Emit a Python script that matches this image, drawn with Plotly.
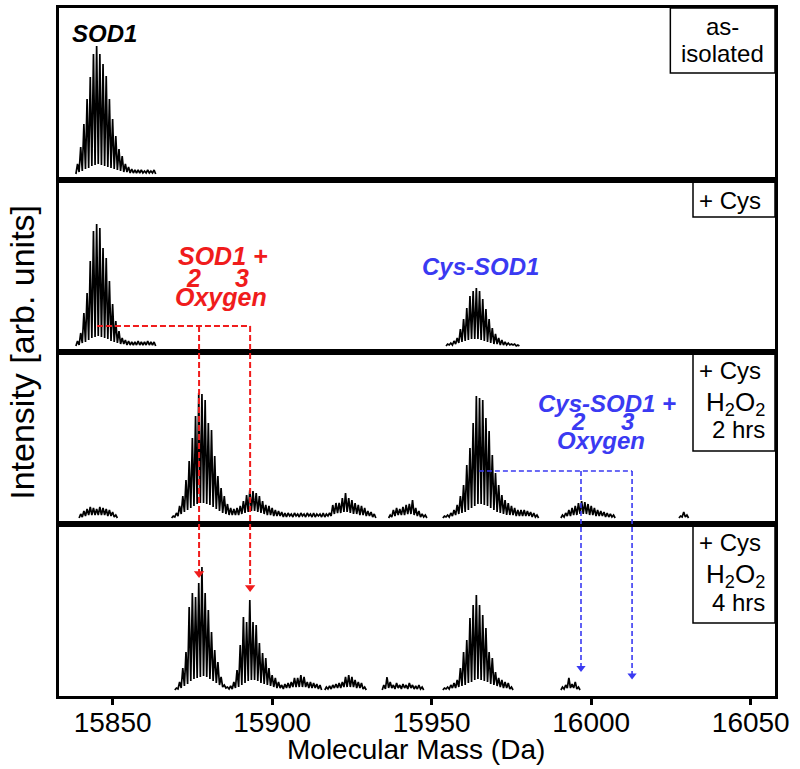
import plotly.graph_objects as go
from plotly.subplots import make_subplots

# ---------------- data ----------------
X_RANGE = [15833.2, 16057.6]
Y_RANGE = [-6, 166]
TICK_VALUES = [15850, 15900, 15950, 16000, 16050]
TICK_LABELS = ["15850", "15900", "15950", "16000", "16050"]

# each cluster: first peak mass (Da), peak heights at 1 Da steps, valley heights between peaks
P1_SOD1_START = 15839
P1_SOD1_PEAKS = [10, 27, 50, 75, 97, 120, 128, 120, 110, 98, 75, 55, 38, 25, 18, 10, 7, 5, 4, 4, 4, 3, 4, 3, 4]
P1_SOD1_VALLEYS = [2, 3, 5, 6, 8, 9, 10, 9, 8, 7, 6, 5, 4, 3, 2, 2, 1, 1, 1, 1, 1, 1, 1, 1]

P2_SOD1_START = 15839
P2_SOD1_PEAKS = [5, 13, 33, 53, 85, 115, 122, 118, 98, 88, 65, 42, 25, 15, 8, 6, 5, 4, 4, 5, 4, 4, 5, 4, 4]
P2_SOD1_VALLEYS = [1, 3, 4, 6, 8, 9, 10, 9, 8, 7, 5, 4, 3, 2, 2, 1, 1, 1, 1, 1, 1, 1, 1, 1]
P2_CYS_START = 15955
P2_CYS_PEAKS = [2, 3, 5, 8, 17, 27, 38, 50, 55, 58, 55, 47, 37, 27, 18, 12, 8, 6, 4, 3, 2, 2, 1]
P2_CYS_VALLEYS = [1, 1, 2, 3, 4, 5, 6, 7, 7, 7, 6, 5, 4, 3, 2, 2, 1, 1, 1, 1, 1, 0]

P3_A_START = 15840
P3_A_PEAKS = [4, 7, 9, 11, 10, 9, 11, 10, 9, 8, 6, 3]
P3_A_VALLEYS = [1, 2, 3, 3, 3, 3, 3, 3, 2, 2, 1]
P3_B_START = 15869
P3_B_PEAKS = [2, 5, 12, 22, 38, 57, 80, 102, 125, 124,
              118, 95, 88, 62, 42, 30, 22, 14, 10, 9,
              10, 12, 17, 23, 28, 27, 25, 22, 17, 13,
              12, 10, 8, 7, 6, 5,
              5, 4, 5, 4, 5, 4, 5, 4, 5, 4, 4, 5, 4, 5,
              13, 15, 15, 20, 25, 20, 18, 15, 13, 12, 10, 7, 6, 4]
P3_B_VALLEYS = [1, 2, 4, 6, 8, 10, 12, 14, 15, 15,
                14, 13, 11, 9, 7, 5, 4, 3, 3, 3,
                3, 4, 5, 6, 7, 7, 6, 5, 4, 3,
                3, 2, 2, 2, 1,
                1, 2, 1, 2, 1, 2, 1, 2, 1, 1, 2, 1, 1, 2,
                2,
                4, 5, 5, 6, 6, 5, 4, 4, 3, 3, 2, 2, 1]
P3_D_START = 15937
P3_D_PEAKS = [3, 8, 10, 9, 11, 13, 14, 18, 10, 7, 4, 3]
P3_D_VALLEYS = [1, 2, 3, 3, 3, 4, 4, 3, 2, 1, 1]
P3_E_START = 15954
P3_E_PEAKS = [2, 3, 5, 8, 13, 22, 33, 53, 70, 95, 122, 120, 118, 100, 87, 63, 45, 33, 23, 18,
              15, 12, 10, 8, 8, 8, 7, 6, 5, 3]
P3_E_VALLEYS = [1, 1, 2, 3, 4, 5, 6, 8, 10, 12, 14, 14, 13, 12, 10, 8, 6, 5, 4, 3,
                3, 3, 2, 2, 2, 2, 2, 1, 1]
P3_F_START = 15991
P3_F_PEAKS = [3, 5, 8, 10, 12, 15, 17, 16, 14, 12, 10, 8, 7, 6, 5, 4, 3]
P3_F_VALLEYS = [1, 2, 2, 3, 3, 4, 4, 4, 3, 3, 2, 2, 2, 1, 1, 1]
P3_G_START = 16028
P3_G_PEAKS = [2, 6, 3]
P3_G_VALLEYS = [1, 1]

P4_B_START = 15870
P4_B_PEAKS = [2, 8, 22, 38, 83, 97, 93, 107, 123, 97,
              80, 58, 40, 28, 13, 5, 3, 4, 8, 20,
              45, 73, 68, 90, 68, 65, 47, 37, 32, 22,
              15, 12, 8, 5, 6, 7, 8, 12, 12, 15,
              13, 8, 8, 7, 6, 5]
P4_B_VALLEYS = [1, 2, 4, 6, 9, 11, 12, 13, 14, 13,
                11, 9, 7, 5, 3, 2, 1, 1, 2, 3,
                5, 7, 9, 10, 10, 9, 7, 6, 5, 4,
                3, 2, 2, 1, 2, 2, 3, 3, 3, 3,
                3, 2, 2, 2, 1]
P4_C_START = 15917
P4_C_PEAKS = [3, 4, 5, 6, 7, 8, 13, 15, 13, 10, 8, 7, 3]
P4_C_VALLEYS = [1, 1, 2, 2, 2, 3, 3, 3, 3, 2, 2, 1]
P4_D_START = 15935
P4_D_PEAKS = [5, 13, 8, 5, 7, 5, 6, 5, 7, 5, 4, 5, 3]
P4_D_VALLEYS = [1, 2, 2, 1, 2, 1, 2, 1, 2, 1, 1, 1]
P4_E_START = 15954
P4_E_PEAKS = [2, 3, 5, 7, 10, 22, 38, 50, 72, 85, 95, 85, 75, 62, 38, 32, 18, 12, 10, 8, 7, 3]
P4_E_VALLEYS = [1, 1, 2, 2, 3, 4, 5, 7, 8, 10, 11, 10, 9, 8, 6, 5, 4, 3, 2, 2, 1]
P4_F_START = 15991
P4_F_PEAKS = [3, 5, 12, 6, 8, 3]
P4_F_VALLEYS = [1, 2, 2, 2, 1]

PANELS = [
    [(P1_SOD1_START, P1_SOD1_PEAKS, P1_SOD1_VALLEYS)],
    [(P2_SOD1_START, P2_SOD1_PEAKS, P2_SOD1_VALLEYS),
     (P2_CYS_START, P2_CYS_PEAKS, P2_CYS_VALLEYS)],
    [(P3_A_START, P3_A_PEAKS, P3_A_VALLEYS), (P3_B_START, P3_B_PEAKS, P3_B_VALLEYS),
     (P3_D_START, P3_D_PEAKS, P3_D_VALLEYS), (P3_E_START, P3_E_PEAKS, P3_E_VALLEYS),
     (P3_F_START, P3_F_PEAKS, P3_F_VALLEYS), (P3_G_START, P3_G_PEAKS, P3_G_VALLEYS)],
    [(P4_B_START, P4_B_PEAKS, P4_B_VALLEYS), (P4_C_START, P4_C_PEAKS, P4_C_VALLEYS),
     (P4_D_START, P4_D_PEAKS, P4_D_VALLEYS), (P4_E_START, P4_E_PEAKS, P4_E_VALLEYS),
     (P4_F_START, P4_F_PEAKS, P4_F_VALLEYS)],
]

# masses used for the oxidation guides
SOD1_MASS = 15845.1
CYS_SOD1_MASS = 15964.8
OXYGEN_SHIFTS = [32, 48]
RED_GUIDE_LEVEL = 20          # panel 2 intensity of the red guide
BLUE_GUIDE_LEVEL = 47         # panel 3 intensity of the blue guide
RED_TIPS = [112, 98]          # panel 4 arrow tips
BLUE_TIPS = [18, 10.5]

RED = "#f01c1c"
BLUE = "#3a3af2"
FONT = "Liberation Sans, Arial, sans-serif"


def comb(start, peaks, valleys):
    xs, ys = [start - 0.5], [0]
    for i, p in enumerate(peaks):
        xs.append(start + i)
        ys.append(p)
        if i < len(valleys):
            xs.append(start + i + 0.5)
            ys.append(valleys[i])
    xs.append(start + len(peaks) - 0.5)
    ys.append(0)
    return xs, ys


fig = make_subplots(rows=4, cols=1, shared_xaxes=True, vertical_spacing=0)

for r, clusters in enumerate(PANELS, start=1):
    X, Y = [], []
    for c in clusters:
        xs, ys = comb(*c)
        X += xs + [None]
        Y += ys + [None]
    fig.add_trace(go.Scatter(x=X, y=Y, mode="lines", line=dict(color="black", width=1.7),
                             hoverinfo="skip", showlegend=False), row=r, col=1)


def to_paper(row, v):
    d0 = (4 - row) / 4.0
    return d0 + (v - Y_RANGE[0]) / (Y_RANGE[1] - Y_RANGE[0]) * 0.25


shapes = []
# red guide
shapes.append(dict(type="line", xref="x", yref="paper", x0=SOD1_MASS, x1=SOD1_MASS + OXYGEN_SHIFTS[1],
                   y0=to_paper(2, RED_GUIDE_LEVEL), y1=to_paper(2, RED_GUIDE_LEVEL),
                   line=dict(color=RED, width=2, dash="6px,3px")))
for s, tip in zip(OXYGEN_SHIFTS, RED_TIPS):
    shapes.append(dict(type="line", xref="x", yref="paper", x0=SOD1_MASS + s, x1=SOD1_MASS + s,
                       y0=to_paper(2, RED_GUIDE_LEVEL), y1=to_paper(4, tip + 6),
                       line=dict(color=RED, width=2, dash="6px,3px")))
# blue guide
shapes.append(dict(type="line", xref="x", yref="paper", x0=CYS_SOD1_MASS, x1=CYS_SOD1_MASS + OXYGEN_SHIFTS[1],
                   y0=to_paper(3, BLUE_GUIDE_LEVEL), y1=to_paper(3, BLUE_GUIDE_LEVEL),
                   line=dict(color=BLUE, width=1.6, dash="5px,3px")))
for s, tip in zip(OXYGEN_SHIFTS, BLUE_TIPS):
    shapes.append(dict(type="line", xref="x", yref="paper", x0=CYS_SOD1_MASS + s, x1=CYS_SOD1_MASS + s,
                       y0=to_paper(3, BLUE_GUIDE_LEVEL), y1=to_paper(4, tip + 5),
                       line=dict(color=BLUE, width=1.6, dash="5px,3px")))

# arrow heads
fig.add_trace(go.Scatter(x=[SOD1_MASS + s for s in OXYGEN_SHIFTS], y=[t + 4.5 for t in RED_TIPS],
                         mode="markers", marker=dict(symbol="triangle-down", size=9, color=RED),
                         hoverinfo="skip", showlegend=False), row=4, col=1)
fig.add_trace(go.Scatter(x=[CYS_SOD1_MASS + s for s in OXYGEN_SHIFTS], y=[t + 4 for t in BLUE_TIPS],
                         mode="markers", marker=dict(symbol="triangle-down", size=8, color=BLUE),
                         hoverinfo="skip", showlegend=False), row=4, col=1)

# condition boxes (top-right of each panel)
BOX_LEFT = [16024.8, 16031.9, 16031.9, 16031.9]
BOX_BOTTOM = [101, 129, 67, 67]
for r in range(1, 5):
    yr = "y" if r == 1 else "y%d" % r
    shapes.append(dict(type="rect", xref="x", yref=yr, x0=BOX_LEFT[r - 1], x1=X_RANGE[1],
                       y0=BOX_BOTTOM[r - 1], y1=Y_RANGE[1], line=dict(color="black", width=1.5),
                       fillcolor="white", layer="below"))

ann = []


def label(text, x, y, row, color="black", size=24, xanchor="center"):
    yr = "y" if row == 1 else "y%d" % row
    ann.append(dict(text=text, x=x, y=y, xref="x", yref=yr, showarrow=False,
                    font=dict(family=FONT, size=size, color=color), xanchor=xanchor, yanchor="middle"))


label("<b><i>SOD1</i></b>", 15847.6, 141, 1)
label("as-", 16041, 148, 1)
label("isolated", 16041, 121, 1)
label("+ Cys", 16043.5, 146, 2)
for r in (3, 4):
    label("+ Cys", 16033.2, 148, r, xanchor="left")
    label("H<sub>2</sub>O<sub>2</sub>", 16055.1, 115, r, xanchor="right", size=26)
label("2 hrs", 16055.1, 89, 3, xanchor="right")
label("4 hrs", 16055.1, 88, 4, xanchor="right")

label("<b><i>SOD1 +</i></b>", 15884.5, 90, 2, RED, size=25)
label("<b><i>2</i></b>", 15875.2, 68, 2, RED, size=25)
label("<b><i>3</i></b>", 15890.6, 68, 2, RED, size=25)
label("<b><i>Oxygen</i></b>", 15883.9, 49, 2, RED, size=25)
label("<b><i>Cys-SOD1</i></b>", 15965.2, 80, 2, BLUE)
label("<b><i>Cys-SOD1 +</i></b>", 16005, 115, 3, BLUE)
label("<b><i>2</i></b>", 15996.1, 97, 3, BLUE)
label("<b><i>3</i></b>", 16011.4, 97, 3, BLUE)
label("<b><i>Oxygen</i></b>", 16003, 78, 3, BLUE)

ann.append(dict(text="Intensity [arb. units]", x=-0.052, y=0.5, xref="paper", yref="paper",
                showarrow=False, textangle=-90, xanchor="center", yanchor="middle",
                font=dict(family=FONT, size=34, color="black")))
ann.append(dict(text="Molecular Mass (Da)", x=0.498, y=-0.0775, xref="paper", yref="paper",
                showarrow=False, xanchor="center", yanchor="middle",
                font=dict(family=FONT, size=28, color="black")))

fig.update_layout(width=800, height=769, margin=dict(l=59, r=25, t=8, b=73, autoexpand=False),
                  paper_bgcolor="white", plot_bgcolor="white", shapes=shapes, annotations=ann,
                  showlegend=False)

for r in range(1, 5):
    fig.update_yaxes(range=Y_RANGE, showline=True, mirror=True, linewidth=3, linecolor="black",
                     showgrid=False, zeroline=False, showticklabels=False, ticks="", automargin=False,
                     row=r, col=1)
    fig.update_xaxes(range=X_RANGE, showline=True, mirror=True, linewidth=3, linecolor="black",
                     showgrid=False, zeroline=False, row=r, col=1, automargin=False,
                     ticks="outside" if r == 4 else "", ticklen=6, tickwidth=2.5, tickcolor="black",
                     tickvals=TICK_VALUES, ticktext=TICK_LABELS,
                     showticklabels=(r == 4), ticklabelstandoff=-7,
                     tickfont=dict(family=FONT, size=28, color="black"))

fig.write_html("out.html", config={"displayModeBar": False},
               post_script="document.body.style.margin='0';document.body.style.overflow='hidden';")
